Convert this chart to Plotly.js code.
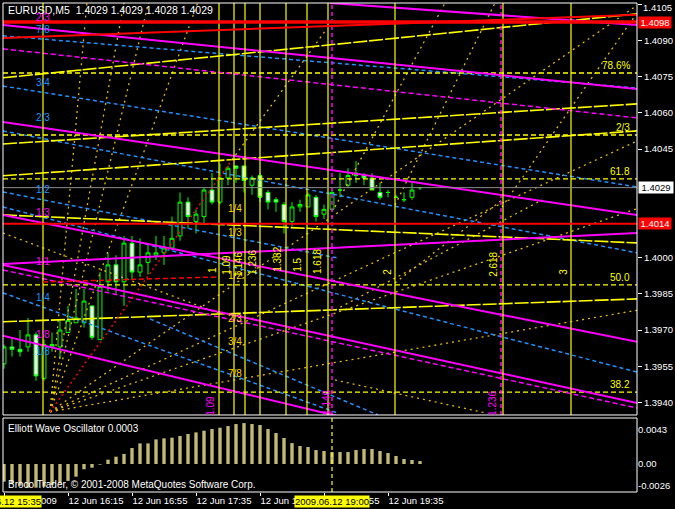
<!DOCTYPE html>
<html><head><meta charset="utf-8">
<script src="https://cdn.plot.ly/plotly-3.0.1.min.js"></script>
<style>html,body{margin:0;padding:0;background:#000;}#chart{width:675px;height:509px;}</style>
</head><body><div id="chart"></div><script>
// ---------- DATA ----------
const symbolTitle = 'EURUSD,M5&nbsp;&nbsp;1.4029 1.4029 1.4028 1.4029';
const barTimes = ['15:35','15:40','15:45','15:50','15:55','16:00','16:05','16:10','16:15','16:20','16:25','16:30','16:35','16:40','16:45','16:50','16:55','17:00','17:05','17:10','17:15','17:20','17:25','17:30','17:35','17:40','17:45','17:50','17:55','18:00','18:05','18:10','18:15','18:20','18:25','18:30','18:35','18:40','18:45','18:50','18:55','19:00','19:05','19:10','19:15','19:20','19:25','19:30','19:35','19:40','19:45','19:50','19:55'];
const openP  = [1.3956,1.3963,1.3962,1.3963,1.3968,1.3950,1.3963,1.3963,1.3969,1.3973,1.3973,1.3980,1.3966,1.3990,1.3997,1.3990,1.4006,1.3994,1.3998,1.4001,1.4002,1.4004,1.4009,1.4023,1.4015,1.4017,1.4028,1.4023,1.4033,1.4038,1.4038,1.4030,1.4034,1.4027,1.4024,1.4022,1.4015,1.4021,1.4021,1.4025,1.4018,1.4020,1.4028,1.4030,1.4035,1.4034,1.4033,1.4027,1.4027,1.4025,1.4024,1.4025,1.4029];
const highP  = [1.3964,1.3967,1.3970,1.3975,1.3969,1.3966,1.3969,1.3974,1.3980,1.3987,1.3987,1.3980,1.3994,1.4002,1.4001,1.4009,1.4009,1.4008,1.4005,1.4009,1.4009,1.4017,1.4027,1.4025,1.4020,1.4029,1.4035,1.4039,1.4038,1.4038,1.4038,1.4034,1.4035,1.4028,1.4025,1.4023,1.4023,1.4024,1.4027,1.4026,1.4022,1.4028,1.4035,1.4037,1.4040,1.4035,1.4035,1.4031,1.4028,1.4026,1.4027,1.4031,1.4029];
const lowP   = [1.3954,1.3959,1.3959,1.3961,1.3949,1.3949,1.3961,1.3958,1.3969,1.3973,1.3971,1.3966,1.3966,1.3986,1.3985,1.3980,1.3991,1.3992,1.3993,1.3999,1.3997,1.4003,1.4007,1.4012,1.4010,1.4014,1.4022,1.4022,1.4030,1.4031,1.4027,1.4026,1.4023,1.4020,1.4019,1.4010,1.4013,1.4019,1.4021,1.4015,1.4016,1.4019,1.4025,1.4029,1.4031,1.4030,1.4028,1.4024,1.4025,1.4025,1.4023,1.4024,1.4028];
const closeP = [1.3963,1.3962,1.3961,1.3968,1.3951,1.3964,1.3964,1.3970,1.3974,1.3975,1.3982,1.3967,1.3988,1.3997,1.3990,1.4006,1.3994,1.3997,1.4002,1.4002,1.4004,1.4008,1.4023,1.4017,1.4018,1.4028,1.4023,1.4033,1.4037,1.4037,1.4032,1.4033,1.4025,1.4023,1.4023,1.4015,1.4021,1.4022,1.4026,1.4017,1.4020,1.4027,1.4028,1.4034,1.4034,1.4033,1.4028,1.4025,1.4027,1.4025,1.4024,1.4028,1.4029];
const ewo = [-0.00167,-0.00183,-0.00205,-0.00224,-0.00224,-0.00214,-0.00198,-0.00183,-0.00160,-0.00120,-0.00050,-0.00035,-0.00006,0.00041,0.00069,0.00095,0.00151,0.00195,0.00195,0.00233,0.00243,0.00249,0.00265,0.00284,0.00299,0.00315,0.00331,0.00343,0.00359,0.00378,0.00387,0.00378,0.00369,0.00331,0.00293,0.00246,0.00198,0.00170,0.00161,0.00132,0.00123,0.00113,0.00113,0.00113,0.00132,0.00142,0.00142,0.00123,0.00104,0.00076,0.00047,0.00038,0.00028];

const priceTicks = [1.4105,1.4090,1.4075,1.4060,1.4045,1.4000,1.3985,1.3970,1.3955,1.3940];
const topPriceLabel = '1.4105';
const timeTickBars = [0,8,16,24,32,40,48];
const timeTickText = ['12 Jun 2009','12 Jun 16:15','12 Jun 16:55','12 Jun 17:35','12 Jun 18:15','12 Jun 18:55','12 Jun 19:35'];
const oscTickVals = [0.00321,0,-0.00203];
const oscTickText = ['0.0043','0.00','-0.0026'];

const bidPrice = 1.4029;
const redLevels = [1.40976, 1.4014];
const fiboLevels = [1.40765,1.40508,1.40326,1.39887,1.39443];
const fiboLabels = ['78.6%','2/3','61.8','50.0','38.2'];
const fiboTimeBars = [4.875,26.875,28.75,30.125,32,35.25,37.875,40.5,48.875,62.375,70.875];
const magentaVBars = [41,62.125];
const crossBar = 41;

// trend lines: [bar0, price0, bar1, price1]
const magentaSolid = [[-0.125,1.40964,79.125,1.40699],[40.75,1.41055,79.125,1.40964],[-0.125,1.40562,79.125,1.40177],[-0.125,1.39974,79.125,1.40102],[-0.125,1.40177,79.125,1.39651],[-0.125,1.39970,79.125,1.39398],[-0.125,1.39676,41.625,1.39344]];
const magentaDashed = [[-0.125,1.40865,79.125,1.40579],[-0.125,1.39949,79.125,1.39377]];
const redThin = [[-0.125,1.40910,79.125,1.41006]];
const redDashed = [[4.875,1.39899,26.75,1.39920]];
const redDotted = [[5.75,1.39361,28.5,1.40405]];
const blueDashed = [[-0.125,1.40919,79.125,1.40703],[-0.125,1.40711,79.125,1.40293],[-0.125,1.40525,79.125,1.40020],[-0.125,1.40210,79.125,1.39526],[-0.125,1.39854,41.625,1.39357],[-0.125,1.40272,41.625,1.39999],[18.25,1.39746,46.75,1.39348]];
const yellowStep = [[-0.125,1.40745,79.125,1.41010],[-0.125,1.40471,79.125,1.40637],[-0.125,1.40339,79.125,1.40525],[-0.125,1.40177,79.125,1.40061],[-0.125,1.39734,79.125,1.39829]];
const goldDotted = [[5.75,1.39361,79.125,1.41045],[5.75,1.39361,79.125,1.40483],[5.75,1.39361,79.125,1.40203],[5.75,1.39361,79.125,1.39782],[5.75,1.39361,24.2,1.41055],[5.75,1.39361,18.05,1.41055],[5.75,1.39361,14.98,1.41055],[5.75,1.39361,10.36,1.41055],[28.5,1.40405,40.25,1.40944],[41.375,1.40210,55.125,1.41055],[48.875,1.40218,61.375,1.41055],[62.25,1.40210,79.125,1.41014],[41.375,1.39783,67.25,1.40239],[48.875,1.39895,62.25,1.40239],[-0.125,1.40102,26.75,1.39771],[41.375,1.39493,60.125,1.39357]];

// text labels [text, bar, price, color]
const gannLeft = [['2/3',4.9,1.40993,'#ff00ff'],['7/8',4.9,1.40944,'#1e90ff'],['3/4',4.9,1.40724,'#1e90ff'],['2/3',4.9,1.40579,'#1e90ff'],['1/2',4.9,1.40281,'#1e90ff'],['1/3',4.9,1.40185,'#ff00ff'],['1/1',4.9,1.39982,'#ff00ff'],['1/4',4.9,1.39833,'#1e90ff'],['1/8',4.9,1.39680,'#ff00ff'],['1/8',4.9,1.39609,'#1e90ff']];
const gannMid = [['1/4',28.9,1.40202],['1/3',28.9,1.40106],['1/2',28.9,1.39928],['2/3',28.9,1.39746],['3/4',28.9,1.39651],['7/8',28.9,1.39518]];
const fiboTimeLabels = [['1',26.125,1.39949],['1.09',27.875,1.39970],['1.146',29.4,1.39970],['1.236',31.125,1.39978],['1.382',34.25,1.39991],['1.5',36.75,1.39970],['1.618',39.25,1.39982],['2',48,1.39941],['2.618',61.25,1.39970],['3',70,1.39941]];
const magentaTimeLabels = [['1.09',25.875,1.39386],['1.146',40.375,1.39398],['1.236',61.125,1.39394]];

// ---------- BUILD ----------
const xMin = -0.125, xMax = 79.125, yMin = 1.39348, yMax = 1.41055;
const barIdx = barTimes.map(t => { const [h,m] = t.split(':').map(Number); return ((h*60+m) - (15*60+35)) / 5; });
function segs(list){ const x=[],y=[]; list.forEach(s=>{x.push(s[0],s[2],null); y.push(s[1],s[3],null);}); return {x,y}; }
function vsegs(list, lo, hi){ const x=[],y=[]; list.forEach(b=>{x.push(b,b,null); y.push(lo,hi,null);}); return {x,y}; }
function hsegs(list){ return segs(list.map(p=>[xMin,p,xMax,p])); }
function lineTrace(d, color, width, dash, yaxis){ return {type:'scatter', mode:'lines', x:d.x, y:d.y, yaxis:yaxis||'y', line:{color:color, width:width, dash:dash||'solid'}, hoverinfo:'skip', connectgaps:false}; }

const traces = [
  lineTrace(segs(goldDotted), '#e6b800', 1.3, '2px,4px'),
  lineTrace(segs(blueDashed), '#1e90ff', 1.5, '4px,3px'),
  lineTrace(hsegs(fiboLevels), '#ffff00', 1.3, '5px,3px'),
  lineTrace(segs(yellowStep), '#ffff00', 1.6, '14px,2px'),
  lineTrace(segs(magentaDashed), '#ff00ff', 1.5, '5px,3px'),
  lineTrace(segs(magentaSolid), '#ff00ff', 2),
  lineTrace(vsegs(fiboTimeBars, yMin, yMax), '#ffff00', 1.2),
  lineTrace(vsegs(magentaVBars, yMin, yMax), '#ff00ff', 1.5, '4px,3px'),
  lineTrace(segs(redDashed), '#ff0000', 1.5, '5px,3px'),
  lineTrace(segs(redDotted), '#ff0000', 1.5, '2px,3px'),
  lineTrace(segs(redThin), '#ff0000', 2),
  lineTrace(hsegs([redLevels[0]]), '#ff0000', 3.5),
  lineTrace(hsegs([redLevels[1]]), '#ff0000', 2),
  lineTrace(hsegs([bidPrice]), '#8c8c8c', 1),
  {type:'candlestick', x:barIdx, open:openP, high:highP, low:lowP, close:closeP, xaxis:'x', yaxis:'y',
   increasing:{line:{color:'#00ff00', width:1}, fillcolor:'#000000'},
   decreasing:{line:{color:'#00ff00', width:1}, fillcolor:'#ffffff'},
   whiskerwidth:0, hoverinfo:'skip'},
  {type:'bar', x:barIdx, y:ewo, yaxis:'y2', width:0.42, marker:{color:'#c2b877', line:{width:0}}, hoverinfo:'skip'},
  lineTrace(vsegs([crossBar], -0.00265, 0.00435), '#ffff00', 1.2, '4px,3px', 'y2')
];

const F = 'Liberation Sans, Arial, sans-serif';
const ann = [];
ann.push({xref:'paper', yref:'paper', x:0.005, y:0.986, xanchor:'left', yanchor:'middle', text:symbolTitle, showarrow:false, font:{family:F, size:10.5, color:'#ffffff'}});
ann.push({xref:'paper', yref:'paper', x:0.005, y:0.129, xanchor:'left', yanchor:'middle', text:'Elliott Wave Oscillator 0.0003', showarrow:false, font:{family:F, size:10, color:'#ffffff'}});
ann.push({xref:'paper', yref:'paper', x:0.005, y:0.016, xanchor:'left', yanchor:'middle', text:'Broco Trader, © 2001-2008 MetaQuotes Software Corp.', showarrow:false, font:{family:F, size:10, color:'#ffffff'}});
fiboLevels.forEach((p,i)=>ann.push({x:78.5, y:p, xanchor:'right', yanchor:'bottom', yshift:0, text:fiboLabels[i], showarrow:false, font:{family:F, size:10, color:'#ffff00'}}));
gannLeft.forEach(g=>ann.push({x:g[1], y:g[2], xanchor:'center', yanchor:'middle', text:g[0], showarrow:false, font:{family:F, size:10, color:g[3]}}));
gannMid.forEach(g=>ann.push({x:g[1], y:g[2], xanchor:'center', yanchor:'middle', text:g[0], showarrow:false, font:{family:F, size:10, color:'#ffd700'}}));
fiboTimeLabels.forEach(g=>ann.push({x:g[1], y:g[2], xanchor:'center', yanchor:'middle', text:g[0], textangle:-90, showarrow:false, font:{family:F, size:10, color:'#ffff00'}}));
magentaTimeLabels.forEach(g=>ann.push({x:g[1], y:g[2], xanchor:'center', yanchor:'middle', text:g[0], textangle:-90, showarrow:false, font:{family:F, size:10, color:'#ff00ff'}}));
// top price label (edge tick)
ann.push({xref:'paper', yref:'paper', x:1, xanchor:'left', xshift:5, y:1, yanchor:'top', yshift:2, text:topPriceLabel, showarrow:false, borderpad:0, font:{family:F, size:9.5, color:'#ffffff'}});
// price axis boxes
ann.push({xref:'paper', x:1, xanchor:'left', xshift:1, y:redLevels[0], yanchor:'middle', text:'1.4098', showarrow:false, bgcolor:'#ff0000', width:32, height:11, borderpad:0, font:{family:F, size:9.5, color:'#ffffff'}});
ann.push({xref:'paper', x:1, xanchor:'left', xshift:1, y:bidPrice, yanchor:'middle', text:'1.4029', showarrow:false, bgcolor:'#ffffff', width:34, height:11, borderpad:0, font:{family:F, size:9.5, color:'#000000'}});
ann.push({xref:'paper', x:1, xanchor:'left', xshift:1, y:redLevels[1], yanchor:'middle', text:'1.4014', showarrow:false, bgcolor:'#ff0000', width:32, height:11, borderpad:0, font:{family:F, size:9.5, color:'#ffffff'}});
// crosshair time boxes
ann.push({x:0, yref:'paper', y:-0.019, xanchor:'center', yanchor:'middle', text:'2009.06.12 15:35', showarrow:false, bgcolor:'#ffff00', borderpad:0, font:{family:F, size:9.5, color:'#000000'}});
ann.push({x:crossBar, yref:'paper', y:-0.019, xanchor:'center', yanchor:'middle', text:'2009.06.12 19:00', showarrow:false, bgcolor:'#ffff00', borderpad:0, font:{family:F, size:9.5, color:'#000000'}});

const mainBottom = 0.1575, subTop = 0.1513;
const shapes = [
  {type:'rect', xref:'paper', yref:'paper', x0:0, x1:1, y0:mainBottom, y1:1, line:{color:'#ffffff', width:1}},
  {type:'rect', xref:'paper', yref:'paper', x0:0, x1:1, y0:0, y1:subTop, line:{color:'#ffffff', width:1}}
];

const layout = {
  width:675, height:509, margin:{l:3, r:38, t:3, b:17},
  paper_bgcolor:'#000000', plot_bgcolor:'#000000', showlegend:false,
  font:{family:F, color:'#ffffff', size:9.5},
  boxgap:0.3,
  xaxis:{type:'linear', range:[xMin,xMax], anchor:'y2', showgrid:false, zeroline:false, rangeslider:{visible:false},
    tickvals:timeTickBars, ticktext:timeTickText, ticks:'outside', ticklen:3, tickcolor:'#ffffff', ticklabelposition:'outside right',
    tickfont:{family:F, size:9.5, color:'#ffffff'}, showline:false},
  yaxis:{domain:[mainBottom,1], range:[yMin,yMax], side:'right', anchor:'x', showgrid:false, zeroline:false,
    tickvals:priceTicks, tickformat:'.4f', ticks:'outside', ticklen:4, tickcolor:'#ffffff', tickfont:{family:F, size:9.5, color:'#ffffff'}},
  yaxis2:{domain:[0,subTop], range:[-0.00265,0.00435], side:'right', anchor:'x', showgrid:false, zeroline:false,
    tickvals:oscTickVals, ticktext:oscTickText, ticks:'', tickfont:{family:F, size:9.5, color:'#ffffff'}},
  annotations:ann, shapes:shapes
};
Plotly.newPlot('chart', traces, layout, {staticPlot:true, displayModeBar:false});
</script></body></html>
